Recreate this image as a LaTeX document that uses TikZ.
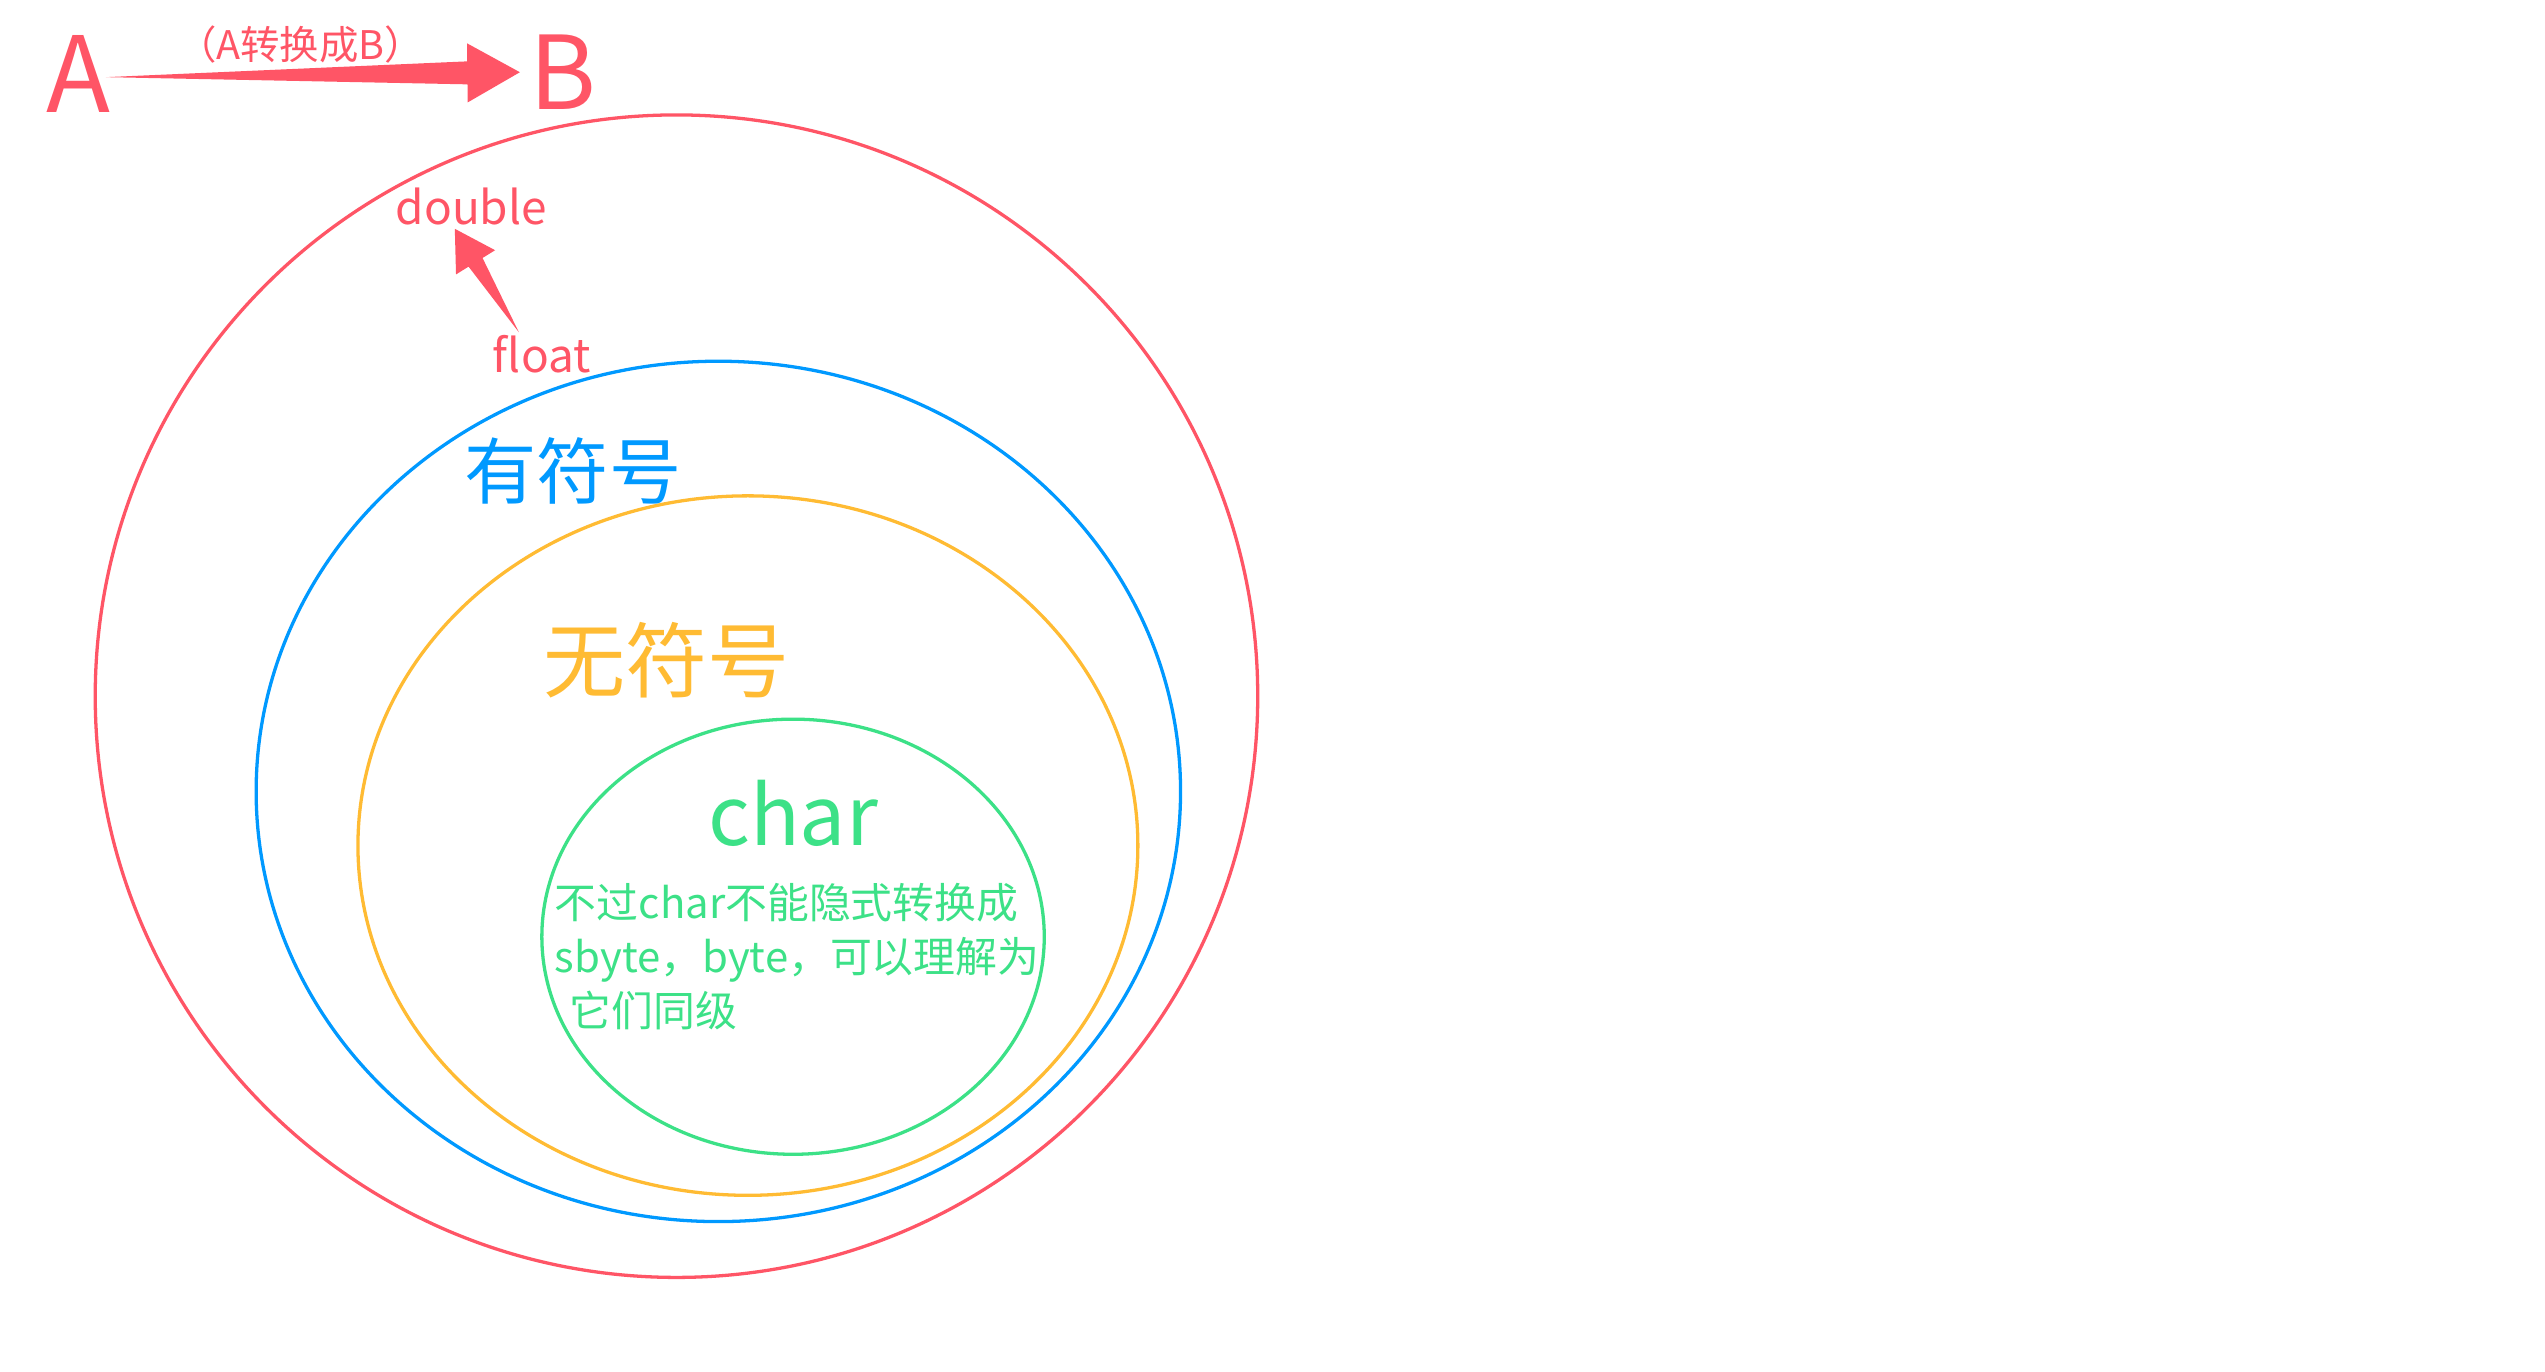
\documentclass[tikz,border=0pt]{standalone}
\usepackage{fontspec}
\setmainfont{Noto Sans CJK SC}
\usepackage{tikz}
\usetikzlibrary{calc,positioning}

% tapered arrow: tail, tip, head length, head half width, shaft half width, colour
\newcommand\fatarrow[6]{%
  \path ($(#2)!#3!(#1)$) coordinate (hb);
  \fill[#6] (#1) -- ($(hb)!#5!90:(#2)$) -- ($(hb)!#4!90:(#2)$) -- (#2)
    -- ($(hb)!#4!-90:(#2)$) -- ($(hb)!#5!-90:(#2)$) -- cycle;}

\begin{document}
\begin{tikzpicture}[x=1pt,y=1pt,
  lbl/.style={inner sep=0pt, outer sep=0pt},
  ring/.style={line width=2pt}]
\definecolor{redColor}{RGB}{255,85,102}
\definecolor{blueColor}{RGB}{0,153,255}
\definecolor{orangeColor}{RGB}{255,187,51}
\definecolor{greenColor}{RGB}{60,225,135}
\path[use as bounding box,fill=white] (0,0) rectangle (1550,835);

% A -> B
\node[lbl,text=redColor,font=\fontsize{64}{64}\selectfont] (A) at (48,790) {A};
\node[lbl,text=redColor,font=\fontsize{62}{62}\selectfont] (B) at (343,791) {B};
\node[lbl,text=redColor,font=\fontsize{24}{24}\selectfont] (conv) at (183,808) {（A转换成B）};
\coordinate (tailAB) at ($(A.east)+(-3,-2)$);
\coordinate (tipAB) at ($(B.west)+(-6,0)$);
\fatarrow{tailAB}{tipAB}{32pt}{18pt}{7pt}{redColor}

% rings
\draw[ring,draw=redColor] (412,411) circle (354);
\draw[ring,draw=blueColor] (437.5,353) ellipse (281.5 and 262);
\draw[ring,draw=orangeColor] (455.5,320) ellipse (237.5 and 213);
\draw[ring,draw=greenColor] (483,264.5) ellipse (153 and 132.5);

% float -> double
\node[lbl,text=redColor,font=\fontsize{28}{28}\selectfont,anchor=base] (double) at (287,698) {double};
\node[lbl,text=redColor,font=\fontsize{28}{28}\selectfont,anchor=base] (float) at (330,608) {float};
\coordinate (tailFD) at ($(float.north)+(-14,2)$);
\coordinate (tipFD) at ($(double.south)+(-10,-2)$);
\fatarrow{tailFD}{tipFD}{24pt}{14pt}{5pt}{redColor}

\node[lbl,text=blueColor,font=\fontsize{44}{44}\selectfont] (signed) at (349,548) {有符号};
\node[lbl,text=orangeColor,font=\fontsize{50}{50}\selectfont] (unsigned) at (406,433) {无符号};
\node[lbl,text=greenColor,font=\fontsize{50}{50}\selectfont,anchor=base] (char) at (483,320) {char};
\node[lbl,text=greenColor,font=\fontsize{25.5}{33}\selectfont,align=left,anchor=north west] (note) at (338,297)
  {不过char不能隐式转换成\\sbyte，byte，可以理解为\\\hspace*{0.35em}它们同级};
\end{tikzpicture}
\end{document}
